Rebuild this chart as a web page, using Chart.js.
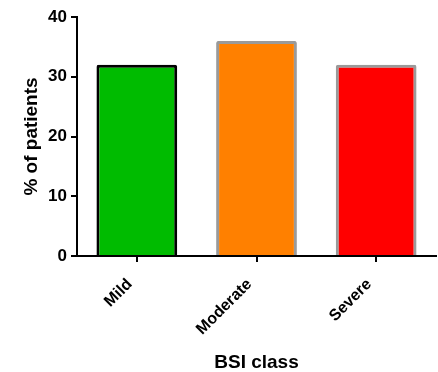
<!DOCTYPE html>
<html>
<head>
<meta charset="utf-8">
<script src="https://cdn.jsdelivr.net/npm/chart.js@4"></script>
<style>
html,body{margin:0;padding:0;background:#fff;}
#wrap{width:438px;height:372px;}
</style>
</head>
<body>
<div id="wrap"><canvas id="c" width="438" height="372"></canvas></div>
<script>
const categories = ["Mild", "Moderate", "Severe"];
const percentPatients = [32, 36, 32];
const fillColors = ["#00BB00", "#FF8000", "#FF0000"];
const edgeColors = ["#000000", "#9A9A9A", "#9A9A9A"];
const yTicks = [0, 10, 20, 30, 40];
const yTitle = "% of patients";
const xTitle = "BSI class";

const FONT = "'Liberation Sans', Arial, Helvetica, sans-serif";

new Chart(document.getElementById('c'), {
  type: 'bar',
  data: {
    labels: categories,
    datasets: [{
      data: percentPatients,
      backgroundColor: fillColors,
      borderColor: edgeColors,
      borderWidth: 3,
      borderRadius: 2,
      borderSkipped: 'start',
      barPercentage: 0.675,
      categoryPercentage: 1.0
    }]
  },
  options: {
    responsive: false,
    animation: false,
    devicePixelRatio: 1,
    layout: { padding: { top: 17, right: 2, left: 0, bottom: 0 } },
    plugins: { legend: { display: false }, tooltip: { enabled: false } },
    scales: {
      x: {
        grid: { display: true, drawOnChartArea: false, drawTicks: true, offset: false, tickLength: 6, color: '#000', lineWidth: 2 },
        border: { display: true, color: '#000', width: 2 },
        ticks: {
          color: '#000', minRotation: 45, maxRotation: 45, padding: 13, labelOffset: -7,
          font: { family: FONT, size: 16, weight: 'bold' }
        },
        title: {
          display: true, text: xTitle, color: '#000',
          font: { family: FONT, size: 19, weight: 'bold', lineHeight: 1 },
          padding: { top: 0, bottom: 0 }
        },
        afterFit: (s) => { s.height = 116; }
      },
      y: {
        min: 0, max: 40,
        afterBuildTicks: (s) => { s.ticks = yTicks.map(v => ({ value: v })); },
        grid: { display: true, drawOnChartArea: false, drawTicks: true, tickLength: 6, color: '#000', lineWidth: 2 },
        border: { display: true, color: '#000', width: 2 },
        ticks: {
          color: '#000', padding: 4,
          font: { family: FONT, size: 17, weight: 'bold' }
        },
        title: {
          display: true, text: yTitle, color: '#000',
          font: { family: FONT, size: 19, weight: 'bold', lineHeight: 1.2 },
          padding: { top: 20, bottom: 0 }
        },
        afterFit: (s) => { s.width = 77; }
      }
    }
  }
});
</script>
</body>
</html>
